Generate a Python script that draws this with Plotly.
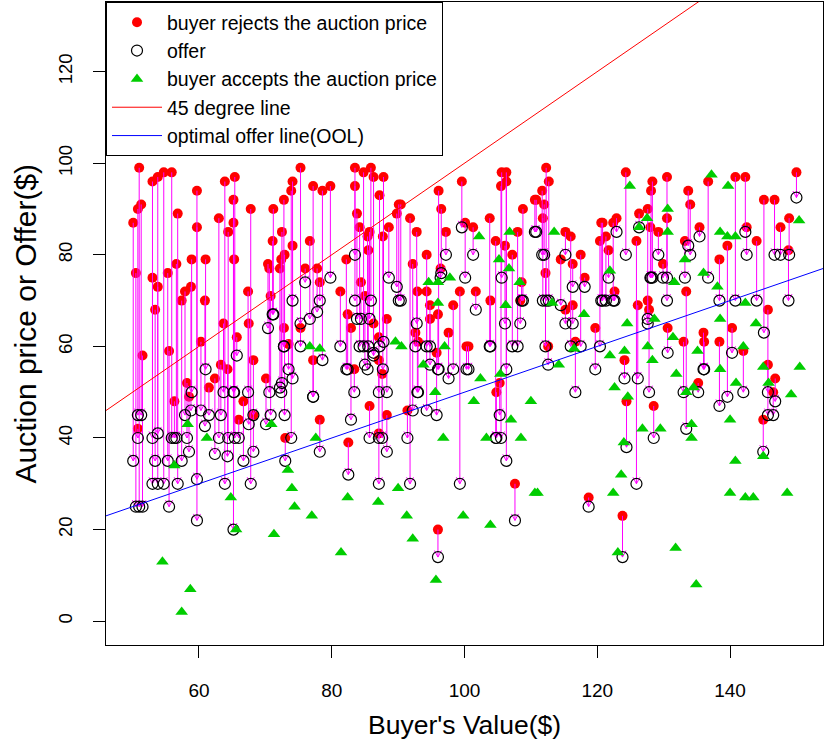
import plotly.graph_objects as go

# ---------------- data ----------------
# rejected auctions: buyer value, auction price, buyer's offer
rej_value = [51.0, 50.1, 50.5, 50.8, 51.3, 51.5, 50.8, 53.0, 53.8, 54.7, 55.9, 53.0, 53.8, 53.4, 55.3, 55.5,
             56.8, 56.6, 57.4, 56.3, 58.2, 58.5, 57.9, 58.8, 58.9,
             59.7, 59.7, 61.0, 60.9, 60.3, 61.5, 62.4, 63.0, 63.9, 63.7, 63.3, 64.3, 64.4, 65.2, 65.4, 65.2,
             65.3, 65.7, 66.0, 66.7, 67.8, 67.4, 67.5, 68.2, 68.2,
             75.3, 74.1, 73.9, 72.8, 71.2, 72.5, 71.1, 74.1, 72.9, 72.4, 70.4, 72.2, 70.6, 70.8, 77.2, 78.6,
             79.8, 76.7, 76.0, 77.8, 78.2, 75.3, 72.8, 73.5, 77.2, 70.1, 73.0, 78.2,
             83.5, 84.8, 85.9, 86.3, 87.8, 83.5, 87.2, 83.8, 84.2, 85.7, 85.4, 87.7, 88.6, 89.8, 90.1, 82.2,
             81.3, 85.5, 84.4, 85.0, 82.4, 82.9, 83.4, 86.3, 88.3, 87.1, 87.1, 87.6, 85.7, 82.5, 87.1, 88.3,
             90.4, 91.8, 92.8, 92.2, 92.9, 94.3, 94.3, 96.1, 96.5, 97.2, 99.6, 100.1, 99.3, 98.3, 97.6, 96.4,
             94.8, 94.8, 96.0, 92.6, 93.0, 95.8, 100.3, 91.4, 96.0,
             105.6, 106.3, 105.5, 106.3, 103.8, 101.3, 104.7, 106.1, 107.2, 108.0, 108.8, 110.6, 101.7, 103.9,
             108.6, 108.4, 100.6, 104.8, 107.6, 105.3,
             112.3, 112.7, 111.7, 112.0, 111.8, 110.8, 115.2, 116.0, 114.5, 116.3, 117.5, 118.1, 112.2, 116.3,
             115.2, 116.7, 119.7, 120.6, 120.4, 112.6, 118.7,
             124.3, 128.3, 128.1, 130.5, 127.6, 126.3, 122.9, 122.4, 120.8, 121.3, 121.7, 122.6, 125.9, 128.0,
             129.2, 129.9, 130.5, 126.1, 127.6, 127.8, 130.6, 124.1, 124.4, 128.5, 123.8,
             136.7, 140.8, 133.7, 134.0, 135.4, 133.2, 139.6, 138.4, 133.4, 140.3, 136.0, 136.1, 133.0, 138.4,
             135.2,
             142.3, 150.0, 145.1, 146.7, 147.6, 148.9, 148.8, 142.5, 144.0, 145.7, 142.0, 145.7, 146.8, 146.5,
             145.0]
rej_price = [99, 87, 76, 90, 91, 58, 42, 96, 97, 98, 98, 75, 73, 68, 76, 59,
             89, 78, 70, 48, 52, 49, 72, 73, 79,
             94, 86, 79, 70, 61, 51, 53, 88, 96, 65, 56, 55, 85, 92, 97, 87,
             79, 62, 44, 48, 90, 72, 65, 57, 45,
             99, 96, 94, 92, 90, 85, 83, 82, 80, 79, 78, 77, 77, 71, 95, 94,
             95, 83, 77, 77, 74, 64, 64, 60.5, 57, 53, 40, 44,
             99, 98, 99, 97, 97, 95, 93, 89, 86, 85, 84, 84, 86, 89, 91, 79,
             72, 81, 74, 71, 67, 64, 55, 65, 66, 62, 57, 54, 47, 39, 41, 45,
             91, 88, 85, 78, 72, 80, 72, 94, 90, 85, 96, 87, 72, 69, 63, 77,
             69, 66, 67, 63, 61, 58.6, 60, 46, 20,
             98, 98, 95, 96, 88, 86, 83, 82, 80, 85, 90, 92, 72, 70,
             74, 70, 60, 50, 30, 52,
             99, 96, 94, 91, 88, 92, 85, 84, 79, 78, 80, 75, 76, 69,
             68, 61, 64, 87, 83, 60, 27,
             98, 96, 94, 97, 90, 89, 88, 87, 87, 84, 81, 72, 83, 86,
             85, 78, 88, 69, 70, 68, 64, 57, 48, 47, 23,
             96, 97, 94, 91, 86, 83, 82, 79, 72, 64, 63, 61, 61, 61,
             52,
             97, 98, 92, 92, 86, 88, 81, 86, 83, 68, 59, 56, 53, 50,
             44]
rej_offer = [25, 35, 25, 45, 45, 25, 40, 30, 30, 30, 40, 40, 41, 35, 35, 25,
             30, 40, 35, 40, 40, 37, 45, 46, 50,
             22, 31, 55, 42.6, 46, 45, 36.5, 40, 30, 50, 45, 36, 40, 20, 40, 50,
             50, 58, 40, 35, 30, 50, 43, 45, 37,
             65, 70, 40, 60, 67, 52, 67, 53, 45, 50, 64, 51, 50, 45, 49, 57,
             75, 66, 74, 67.5, 70, 60, 60, 55, 49, 43, 35, 37,
             80, 60, 70, 58, 61, 70, 60, 66, 60, 66, 55, 55, 75, 73, 70, 55,
             60, 60, 66, 56, 55, 44, 50, 58.6, 50, 50, 40, 40, 40, 32, 30, 37,
             70, 30, 65, 46, 50, 60, 46, 55, 76, 80, 86, 75, 30, 55, 53, 75,
             60, 56, 55, 60, 50, 45, 55, 40, 14,
             75, 55, 40, 35, 60, 80, 40, 65, 60, 60, 70, 85, 68, 60,
             70, 65, 55, 40, 22, 45,
             70, 70, 80, 80, 70, 85, 80, 60, 69, 73, 60, 73, 60, 65,
             65, 50, 55, 70, 60, 56, 25,
             80, 75, 75, 75, 65, 86, 85, 70, 70, 70, 75, 70, 30, 75,
             80, 75, 70, 53, 66, 50, 58.6, 53, 38, 40, 14,
             75, 70, 82, 80, 84, 75, 49, 70, 42, 58.6, 55, 55, 50, 47,
             50,
             85, 92.5, 63, 80, 80, 80, 70, 80, 70, 45, 50, 50, 48, 45,
             37]

# accepted auctions: buyer value, auction price
acc_value = [58.3, 56.3, 54.5, 58.7, 57.4, 61.2, 64.8, 65.6,
             70.9, 76.7, 78.2, 77.6, 73.4, 74.0, 74.4, 77.0, 71.3,
             82.4, 87.0, 81.4, 89.6, 90.0,
             94.6, 96.0, 97.8, 96.0, 97.0, 93.8, 95.6, 90.5, 96.8, 91.3, 92.2, 99.8, 95.7,
             102.2, 106.8, 105.2, 106.7, 108.3, 106.2, 102.4, 105.4, 101.4, 107.0, 103.3, 108.5, 110.0, 110.6,
             103.9,
             113.5, 113.2, 118.0, 116.5, 114.2, 111.0,
             124.9, 127.5, 126.3, 130.6, 130.6, 121.9, 124.5, 128.6, 121.9, 124.1, 127.6, 128.3, 122.6, 124.6,
             126.8, 129.5, 124.0, 123.6, 122.4, 123.1,
             137.2, 139.7, 138.5, 139.6, 140.8, 133.2, 136.0, 138.1, 131.6, 138.5, 131.4, 135.1, 131.9, 138.5,
             140.9, 133.4, 134.5, 134.2, 134.2, 140.0, 140.8, 140.0, 131.8, 134.9,
             150.4, 142.3, 143.9, 142.0, 145.0, 145.8, 150.5, 149.2, 145.0, 142.3, 143.5, 148.6]
acc_price = [43, 34, 13, 7, 2, 40, 27, 20,
             43, 60, 59.5, 40, 33, 29, 25, 23, 19,
             27, 26, 15, 61, 29,
             74, 74, 75, 69.5, 60, 56, 50, 60, 40, 23, 18, 23, 9,
             84, 85, 79, 77, 74, 69, 53, 54, 48, 44, 40, 40, 48, 28,
             21,
             85, 69.5, 67, 59.5, 56, 28,
             95, 88, 86, 90, 85, 76.5, 65, 66, 58, 59, 60, 57, 51, 49,
             42, 42, 39, 32, 28, 15,
             97.5, 95, 85, 84, 84, 79, 76, 73, 74, 66, 62, 59, 54, 55,
             52, 50, 51, 43, 40, 44, 35, 28, 16, 8,
             87.5, 69.5, 65, 60, 55.5, 52, 55.5, 49.5, 36, 27, 27, 28]

x_range = [46, 154]
y_range = [-5.2, 135.2]
line_slopes = {"45 degree line": 1.0, "optimal offer line(OOL)": 0.5}

# ---------------- layout geometry ----------------
W, H = 825, 747
M = dict(l=106, r=2, t=2, b=102)
px_per_x = (W - M["l"] - M["r"]) / (x_range[1] - x_range[0])
px_per_y = (H - M["t"] - M["b"]) / (y_range[1] - y_range[0])
wing_w = 3.5 / px_per_x
wing_h = 6.5 / px_per_y

FONT = "Liberation Sans, Arial, sans-serif"

# arrows (shaft + open head)
ax, ay = [], []
for v, p, o in zip(rej_value, rej_price, rej_offer):
    ax += [v, v, None, v - wing_w, v, v + wing_w, None]
    ay += [p, o, None, o + wing_h, o, o + wing_h, None]

fig = go.Figure()
fig.add_trace(go.Scatter(x=rej_value, y=rej_price, mode="markers", name="buyer rejects the auction price",
                         marker=dict(color="#FF0000", size=10, line=dict(width=0))))
fig.add_trace(go.Scatter(x=ax, y=ay, mode="lines", line=dict(color="#FF00FF", width=1),
                         showlegend=False, hoverinfo="skip"))
fig.add_trace(go.Scatter(x=rej_value, y=rej_offer, mode="markers", name="offer",
                         marker=dict(symbol="circle-open", color="black", size=11, line=dict(width=1.2))))
fig.add_trace(go.Scatter(x=acc_value, y=acc_price, mode="markers", name="buyer accepts the auction price",
                         marker=dict(symbol="triangle-up", color="#00CD00", size=11, line=dict(width=0))))
line_colors = {"45 degree line": "#FF0000", "optimal offer line(OOL)": "#0000FF"}
for nm, s in line_slopes.items():
    fig.add_trace(go.Scatter(x=x_range, y=[s * x_range[0], s * x_range[1]], mode="lines", name=nm,
                             line=dict(color=line_colors[nm], width=1)))

axis_common = dict(showline=True, mirror=True, linecolor="black", linewidth=1, ticks="outside",
                   ticklen=12, tickwidth=1, tickcolor="black", showgrid=False, zeroline=False)
fig.update_xaxes(range=x_range, tickvals=[60, 80, 100, 120, 140], ticklabelstandoff=16,
                 tickfont=dict(family=FONT, size=19, color="black"), **axis_common)
fig.update_yaxes(range=y_range, tickvals=[0, 20, 40, 60, 80, 100, 120], tickangle=-90,
                 ticklabelstandoff=14, tickfont=dict(family=FONT, size=18.5, color="black"), **axis_common)

fig.update_layout(
    width=W, height=H, margin=dict(l=M["l"], r=M["r"], t=M["t"], b=M["b"], pad=0),
    plot_bgcolor="white", paper_bgcolor="white",
    font=dict(family=FONT, color="black"),
    legend=dict(x=0, y=1, xanchor="left", yanchor="top", bgcolor="white", bordercolor="black",
                borderwidth=1, font=dict(family=FONT, size=19.5, color="black"),
                traceorder="normal", itemwidth=50),
    annotations=[
        dict(text="Buyer's Value($)", xref="paper", yref="paper", x=0.5, y=0, yshift=-80,
             xanchor="center", yanchor="middle", showarrow=False, font=dict(family=FONT, size=26.5)),
        dict(text="Auction price or Offer($)", xref="paper", yref="paper", x=0, y=0.5, xshift=-81,
             xanchor="center", yanchor="middle", textangle=-90, showarrow=False,
             font=dict(family=FONT, size=30)),
    ],
)
fig.write_html("out.html")
